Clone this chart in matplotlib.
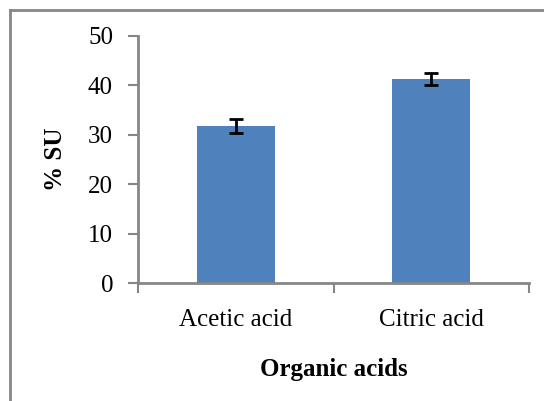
import matplotlib.pyplot as plt
from matplotlib.lines import Line2D
import numpy as np

plt.rcParams['font.family'] = ['Liberation Serif', 'DejaVu Serif']

# Daten
sorten = ['Acetic acid', 'Citric acid']
werte = [31.7, 41.3]
fehler = [1.4, 1.2]

W, H = 544, 401
fig = plt.figure(figsize=(W / 100, H / 100), dpi=100)
# Achsen in Pixelkoordinaten platzieren
x0, x1, y0, y1 = 138, 529, 36, 283
ax = fig.add_axes([x0 / W, 1 - y1 / H, (x1 - x0) / W, (y1 - y0) / H])

grau = '#868686'
pos = np.arange(len(sorten))
ax.bar(pos, werte, width=0.4, color='#4F81BD')
ax.errorbar(pos, werte, yerr=fehler, fmt='none', ecolor='black',
            elinewidth=2, capsize=5, capthick=2)

ax.set_xlim(-0.5, 1.5)
ax.set_ylim(0, 50)
ax.set_yticks(range(0, 51, 10))
ax.set_xticks(pos)
ax.set_xticklabels(sorten, fontsize=18)
ax.tick_params(axis='x', length=0, pad=19)
ax.tick_params(axis='y', labelsize=18, length=7, width=1.5, color=grau, pad=11)
# Trennstriche zwischen den Kategorien
ax.set_xticks([-0.5, 0.5, 1.5], minor=True)
ax.tick_params(axis='x', which='minor', length=7, width=1.5, color=grau, direction='out')

for s in ['top', 'right']:
    ax.spines[s].set_visible(False)
for s in ['left', 'bottom']:
    ax.spines[s].set_color(grau)
    ax.spines[s].set_linewidth(2)

ax.set_ylabel('% SU', fontsize=18, fontweight='bold', labelpad=15)
ax.set_xlabel('Organic acids', fontsize=18, fontweight='bold', labelpad=19)

# Rahmen oben und links
fig.add_artist(Line2D([10 / W, 543 / W], [1 - 10 / H, 1 - 10 / H], color=grau, lw=2))
fig.add_artist(Line2D([10 / W, 10 / W], [1 - 10 / H, 0], color=grau, lw=2))

plt.savefig('out.png', dpi=100)
